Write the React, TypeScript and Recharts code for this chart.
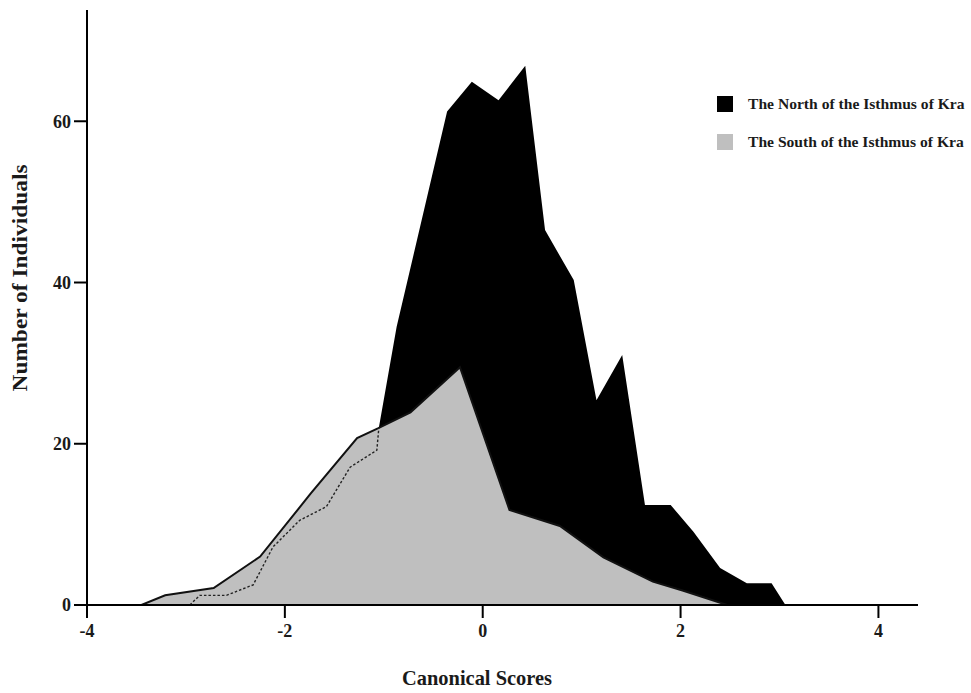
import React from "react";
import { ComposedChart, Area, Line, XAxis, YAxis, Legend } from "recharts";

// canonical score positions
const northScores = [-2.96, -2.86, -2.59, -2.32, -2.12, -1.85, -1.58, -1.34, -1.07, -1.05, -0.87, -0.36, -0.11, 0.16, 0.43, 0.63, 0.92, 1.15, 1.41, 1.64, 1.9, 2.13, 2.4, 2.67, 2.92, 3.06];
const northCounts = [0, 1.2, 1.2, 2.5, 7.2, 10.5, 12.2, 17.1, 19.2, 22.0, 34.5, 61.2, 64.9, 62.6, 66.9, 46.5, 40.3, 25.4, 31.0, 12.4, 12.4, 9.1, 4.6, 2.7, 2.7, 0];

const southScores = [-3.45, -3.21, -2.72, -2.25, -1.74, -1.27, -1.06, -0.73, -0.23, 0.27, 0.78, 1.22, 1.72, 2.02, 2.47];
const southCounts = [0, 1.2, 2.1, 6.0, 13.8, 20.7, 21.9, 23.9, 29.5, 11.8, 9.8, 5.9, 2.9, 1.8, 0];

const xTicks = [-4, -2, 0, 2, 4];
const yTicks = [0, 20, 40, 60];

const seriesNames = ["The North of the Isthmus of Kra", "The South of the Isthmus of Kra"];
const seriesColors = ["#000000", "#bfbfbf"];

// part of the north curve hidden under the south area (drawn dashed)
const overlapEnd = -1.05;

const font = "'Liberation Serif', 'Times New Roman', serif";

// merge both series on one sorted x list
const allX = Array.from(new Set([...northScores, ...southScores])).sort((a, b) => a - b);
const chartData = allX.map((x) => {
  const ni = northScores.indexOf(x);
  const si = southScores.indexOf(x);
  return {
    x,
    north: ni >= 0 ? northCounts[ni] : null,
    south: si >= 0 ? southCounts[si] : null,
    northLow: ni >= 0 && x <= overlapEnd ? northCounts[ni] : null,
  };
});

const tickStyle = { fontSize: 18, fontWeight: 700, fill: "#1a1a1a", fontFamily: font };

const XTitle = () => (
  <text
    x={477}
    y={685}
    textAnchor="middle"
    fontFamily={font}
    fontWeight={700}
    fontSize={21}
    fill="#1a1a1a"
    textLength={150}
    lengthAdjust="spacingAndGlyphs"
  >
    Canonical Scores
  </text>
);

const YTitle = () => (
  <text
    x={0}
    y={0}
    transform="translate(27 278) rotate(-90)"
    textAnchor="middle"
    fontFamily={font}
    fontWeight={700}
    fontSize={20}
    fill="#1a1a1a"
    textLength={227}
    lengthAdjust="spacingAndGlyphs"
  >
    Number of Individuals
  </text>
);

const LegendBox = () => (
  <div style={{ fontFamily: font, fontWeight: 700, fontSize: 15.6, color: "#1a1a1a" }}>
    {seriesNames.map((name, i) => (
      <div key={name} style={{ display: "flex", alignItems: "center", height: 16, marginBottom: 22 }}>
        <span style={{ width: 16, height: 16, background: seriesColors[i], display: "inline-block", marginRight: 15 }} />
        <span style={{ whiteSpace: "nowrap" }}>{name}</span>
      </div>
    ))}
  </div>
);

export default function App() {
  return (
    <div style={{ position: "absolute", left: 0, top: 0, background: "#fff" }}>
      <ComposedChart
        width={971}
        height={693}
        data={chartData}
        margin={{ top: 10, right: 53, left: 0, bottom: 0 }}
      >
        <XAxis
          dataKey="x"
          type="number"
          domain={[-4, 4.4]}
          ticks={xTicks}
          allowDataOverflow
          height={88}
          stroke="#000"
          strokeWidth={2}
          tickSize={13}
          tickMargin={6}
          tick={tickStyle}
          label={<XTitle />}
        />
        <YAxis
          type="number"
          domain={[0, 73.8]}
          ticks={yTicks}
          allowDataOverflow
          width={87}
          stroke="#000"
          strokeWidth={2}
          tickSize={13}
          tickMargin={3}
          tick={tickStyle}
          label={<YTitle />}
        />
        <Legend
          layout="vertical"
          verticalAlign="middle"
          align="center"
          wrapperStyle={{ left: 717, top: 96, width: 260 }}
          content={<LegendBox />}
        />
        <Area
          type="linear"
          dataKey="north"
          name={seriesNames[0]}
          fill={seriesColors[0]}
          fillOpacity={1}
          stroke="none"
          connectNulls
          dot={false}
          activeDot={false}
          isAnimationActive={false}
        />
        <Area
          type="linear"
          dataKey="south"
          name={seriesNames[1]}
          fill={seriesColors[1]}
          fillOpacity={1}
          stroke="#111"
          strokeWidth={2}
          connectNulls
          dot={false}
          activeDot={false}
          isAnimationActive={false}
        />
        <Line
          type="linear"
          dataKey="northLow"
          stroke="#222"
          strokeWidth={1.4}
          strokeDasharray="2.5 2"
          connectNulls
          dot={false}
          activeDot={false}
          legendType="none"
          isAnimationActive={false}
        />
      </ComposedChart>
    </div>
  );
}
